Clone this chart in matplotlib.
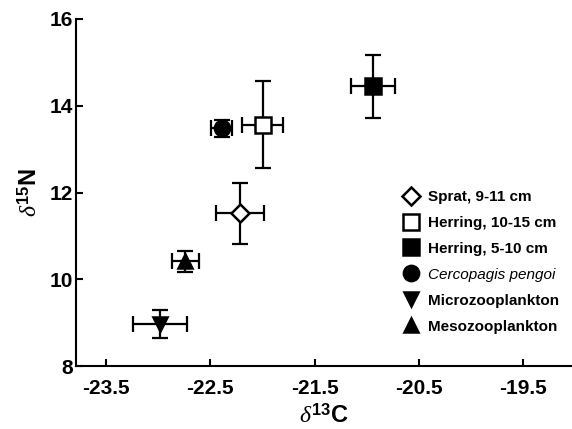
import matplotlib
matplotlib.use("Agg")
import matplotlib.pyplot as plt

plt.rcParams["font.family"] = ["Liberation Sans", "DejaVu Sans"]
plt.rcParams["mathtext.fontset"] = "custom"
plt.rcParams["mathtext.it"] = "Liberation Serif:italic"
plt.rcParams["mathtext.bf"] = "Liberation Sans:bold"
plt.rcParams["mathtext.rm"] = "Liberation Sans"

# group data: mean d13C, mean d15N, and their error bars
labels = ["Sprat, 9-11 cm", "Herring, 10-15 cm", "Herring, 5-10 cm",
          "Cercopagis pengoi", "Microzooplankton", "Mesozooplankton"]
d13c = [-22.22, -22.00, -20.94, -22.39, -22.98, -22.74]
d15n = [11.52, 13.56, 14.45, 13.48, 8.97, 10.41]
d13c_err = [0.23, 0.20, 0.21, 0.10, 0.26, 0.13]
d15n_err = [0.70, 1.00, 0.73, 0.19, 0.33, 0.24]

markers = ["D", "s", "s", "o", "v", "^"]
faces = ["white", "white", "black", "black", "black", "black"]
msizes = [9, 11, 11, 11, 10, 10]

fig = plt.figure(figsize=(5.72, 4.29), dpi=100)
ax = fig.add_axes([76 / 572, 63 / 429, 496 / 572, 347 / 429])

for i in range(len(labels)):
    ax.errorbar(d13c[i], d15n[i], xerr=d13c_err[i], yerr=d15n_err[i], fmt="none",
                ecolor="black", elinewidth=1.6, capsize=6, capthick=1.6, zorder=2)
    ax.plot(d13c[i], d15n[i], linestyle="none", marker=markers[i], markersize=msizes[i],
            markerfacecolor=faces[i], markeredgecolor="black", markeredgewidth=1.8,
            label=labels[i], zorder=3)

ax.set_xlim(-23.79, -19.03)
ax.set_ylim(8, 16)
ax.set_xticks([-23.5, -22.5, -21.5, -20.5, -19.5])
ax.set_xticklabels(["-23.5", "-22.5", "-21.5", "-20.5", "-19.5"])
ax.set_yticks([8, 10, 12, 14, 16])

for side in ["top", "right"]:
    ax.spines[side].set_visible(False)
for side in ["left", "bottom"]:
    ax.spines[side].set_linewidth(1.5)
ax.tick_params(direction="in", length=5, width=1.5, labelsize=15)
ax.tick_params(axis="x", pad=9)
ax.tick_params(axis="y", pad=2)
for t in ax.get_xticklabels() + ax.get_yticklabels():
    t.set_fontweight("bold")

ax.set_xlabel(r"$\delta^{\mathbf{13}}\mathbf{C}$", fontsize=17, labelpad=5)
ax.set_ylabel(r"$\delta^{\mathbf{15}}\mathbf{N}$", fontsize=17, labelpad=6)

leg = ax.legend(loc="upper left", bbox_to_anchor=(0.645, 0.525), frameon=False,
                fontsize=11, labelspacing=0.78, handletextpad=0.5,
                handlelength=1.2, borderaxespad=0)
for txt in leg.get_texts():
    if txt.get_text() == "Cercopagis pengoi":
        txt.set_fontstyle("italic")
    else:
        txt.set_fontweight("bold")

fig.savefig("out.png", dpi=100)
